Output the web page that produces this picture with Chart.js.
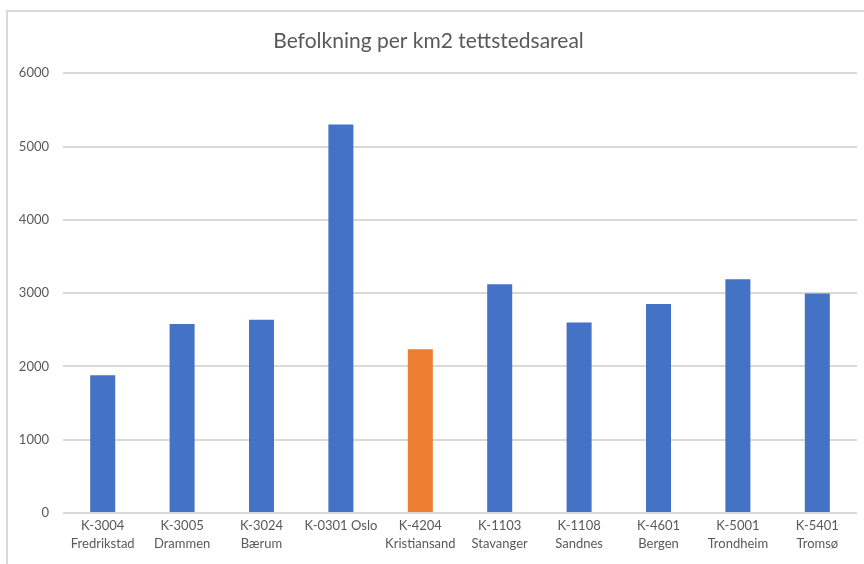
<!DOCTYPE html>
<html>
<head>
<meta charset="utf-8">
<script src="https://cdn.jsdelivr.net/npm/chart.js@4.4.1/dist/chart.umd.min.js"></script>
<style>
  html, body { margin: 0; padding: 0; background: #ffffff; }
  #wrap { position: relative; width: 864px; height: 564px; }
</style>
</head>
<body>
<div id="wrap"><canvas id="chart" width="864" height="564"></canvas></div>
<script>
// Population per km² of urban settlement area, by municipality
const categories = [
  ['K-3004', 'Fredrikstad'],
  ['K-3005', 'Drammen'],
  ['K-3024', 'Bærum'],
  'K-0301 Oslo',
  ['K-4204', 'Kristiansand'],
  ['K-1103', 'Stavanger'],
  ['K-1108', 'Sandnes'],
  ['K-4601', 'Bergen'],
  ['K-5001', 'Trondheim'],
  ['K-5401', 'Tromsø']
];
const density = [1880, 2580, 2635, 5300, 2235, 3120, 2600, 2850, 3190, 2995];
const highlighted = 'K-4204';
const yTicks = [0, 1000, 2000, 3000, 4000, 5000, 6000];

const BLUE = '#4472C4';
const ORANGE = '#ED7D31';
const TEXT = '#595959';
const GRID = '#d9d9d9';
const FONT = 'Lato, "Open Sans", sans-serif';

const barColors = categories.map(c => {
  const code = Array.isArray(c) ? c[0] : c.split(' ')[0];
  return code === highlighted ? ORANGE : BLUE;
});

// Light frame around the chart (left and top edges)
const framePlugin = {
  id: 'frame',
  beforeDraw(chart) {
    const ctx = chart.ctx;
    ctx.save();
    ctx.strokeStyle = '#d9d9d9';
    ctx.lineWidth = 2;
    ctx.beginPath();
    ctx.moveTo(7, chart.height + 2);
    ctx.lineTo(7, 11);
    ctx.lineTo(chart.width + 2, 11);
    ctx.stroke();
    ctx.restore();
  }
};

new Chart(document.getElementById('chart'), {
  type: 'bar',
  data: {
    labels: categories,
    datasets: [{
      data: density,
      backgroundColor: barColors,
      borderWidth: 0,
      categoryPercentage: 1,
      barPercentage: 0.315
    }]
  },
  options: {
    responsive: false,
    animation: false,
    layout: { padding: { left: 0, right: 7, top: 0, bottom: 0 } },
    plugins: {
      legend: { display: false },
      tooltip: { enabled: false },
      title: {
        display: true,
        text: 'Befolkning per km2 tettstedsareal',
        color: TEXT,
        font: { family: FONT, size: 21, weight: 'normal' },
        padding: { top: 29, bottom: 19 }
      }
    },
    scales: {
      x: {
        grid: { display: false, drawTicks: false },
        border: { display: false },
        ticks: {
          color: TEXT,
          font: { family: FONT, size: 13, lineHeight: 1.35 },
          maxRotation: 0,
          autoSkip: false,
          padding: 4
        },
        afterFit(scale) { scale.height = 51; }
      },
      y: {
        min: 0,
        max: 6000,
        afterBuildTicks(scale) { scale.ticks = yTicks.map(v => ({ value: v })); },
        grid: { color: GRID, lineWidth: 2, drawTicks: false },
        border: { display: false },
        ticks: {
          color: TEXT,
          font: { family: FONT, size: 13 },
          padding: 14,
          callback: value => String(value)
        },
        afterFit(scale) { scale.width = 63; }
      }
    }
  },
  plugins: [framePlugin]
});
</script>
</body>
</html>
